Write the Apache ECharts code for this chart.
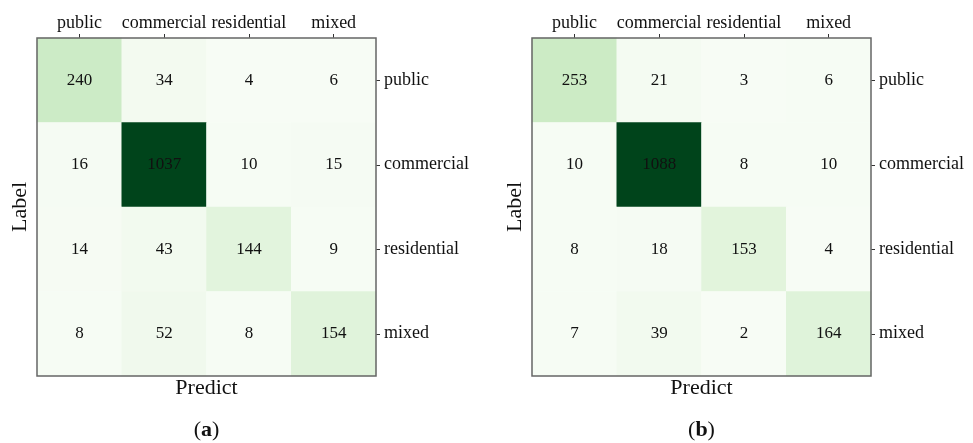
<!DOCTYPE html>
<html><head><meta charset="utf-8">
<script src="https://cdn.jsdelivr.net/npm/echarts@6/dist/echarts.min.js"></script>
<style>html,body{margin:0;padding:0;background:#fff}#c{width:973px;height:443px}</style>
</head><body><div id="c"></div>
<script>
const categories = ['public', 'commercial', 'residential', 'mixed'];
// rows = Label (true), cols = Predict
const matrixA = [
  [240, 34, 4, 6],
  [16, 1037, 10, 15],
  [14, 43, 144, 9],
  [8, 52, 8, 154]
];
const matrixB = [
  [253, 21, 3, 6],
  [10, 1088, 8, 10],
  [8, 18, 153, 4],
  [7, 39, 2, 164]
];
const panelLabels = ['a', 'b'];

const greens = ['#f7fcf5','#e5f5e0','#c7e9c0','#a1d99b','#74c476','#41ab5d','#238b45','#006d2c','#00441b'];
const FONT = 'Liberation Serif';

function toData(m){
  const d = [];
  m.forEach((row, r) => row.forEach((v, c) => d.push([c, r, v])));
  return d;
}
function flat(m){ return [].concat(...m); }

const grids = [
  {left: 37, top: 38, width: 339, height: 338},
  {left: 532, top: 38, width: 339, height: 338}
];
const mats = [matrixA, matrixB];

const graphics = [];
grids.forEach((g, i) => {
  graphics.push(
    {type: 'rect', z: 100, silent: true,
     shape: {x: g.left, y: g.top, width: g.width, height: g.height},
     style: {fill: 'none', stroke: '#666', lineWidth: 1.5}},
    {type: 'text', x: g.left - 17, y: g.top + g.height / 2, rotation: Math.PI / 2,
     style: {text: 'Label', font: '22px "Liberation Serif"', fill: '#111', align: 'center', verticalAlign: 'middle'}},
    {type: 'text', x: g.left + g.width / 2, y: g.top + g.height + 12,
     style: {text: 'Predict', font: '22px "Liberation Serif"', fill: '#111', align: 'center', verticalAlign: 'middle'}},
    {type: 'text', x: g.left + g.width / 2, y: 430,
     style: {text: '({b|' + panelLabels[i] + '})', font: '22px "Liberation Serif"', fill: '#111', align: 'center', verticalAlign: 'middle',
       rich: {b: {font: 'bold 22px "Liberation Serif"', fill: '#111'}}}}
  );
});

const option = {
  backgroundColor: '#fff',
  animation: false,
  grid: grids.map(g => Object.assign({show: false}, g)),
  xAxis: grids.map((g, i) => ({
    type: 'category', data: categories, gridIndex: i, position: 'top',
    axisLine: {show: false},
    axisTick: {show: true, alignWithLabel: true, length: 4, lineStyle: {color: '#333'}},
    axisLabel: {color: '#111', fontFamily: FONT, fontSize: 18, margin: 6, interval: 0},
    splitArea: {show: false}
  })),
  yAxis: grids.map((g, i) => ({
    type: 'category', data: categories, gridIndex: i, position: 'right', inverse: true,
    axisLine: {show: false},
    axisTick: {show: true, alignWithLabel: true, length: 4, lineStyle: {color: '#333'}},
    axisLabel: {color: '#111', fontFamily: FONT, fontSize: 18, margin: 8, interval: 0}
  })),
  visualMap: mats.map((m, i) => ({
    show: false, seriesIndex: i, dimension: 2,
    min: Math.min(...flat(m)), max: Math.max(...flat(m)),
    inRange: {color: greens}
  })),
  series: mats.map((m, i) => ({
    type: 'heatmap', xAxisIndex: i, yAxisIndex: i, data: toData(m),
    label: {show: true, color: '#111', fontFamily: FONT, fontSize: 17},
    itemStyle: {borderWidth: 0},
    emphasis: {disabled: true}
  })),
  graphic: graphics
};
const chart = echarts.init(document.getElementById('c'), null, {renderer: 'canvas'});
chart.setOption(option);
</script></body></html>
